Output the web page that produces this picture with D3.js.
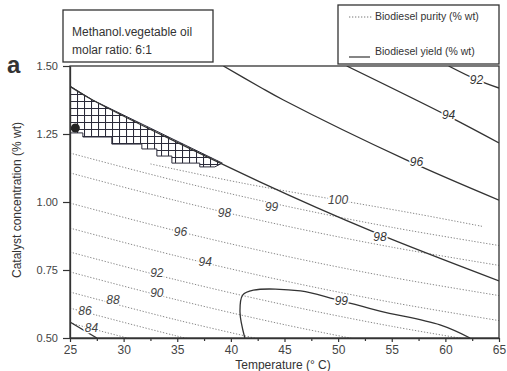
<!DOCTYPE html>
<html>
<head>
<meta charset="utf-8">
<script src="https://cdn.jsdelivr.net/npm/d3@7"></script>
<style>
  body { margin: 0; background: #fff; }
  text { font-family: "Liberation Sans", Arial, sans-serif; fill: #333; }
</style>
</head>
<body>
<svg id="chart" width="507" height="371"></svg>
<script>
// axis ticks
const xTicks = [25, 30, 35, 40, 45, 50, 55, 60, 65];
const xMinorTicks = [27.5, 32.5, 37.5, 42.5, 47.5, 52.5, 57.5, 62.5];
const yTicks = [0.5, 0.75, 1.0, 1.25, 1.5];

// biodiesel purity contours (dotted), [temperature, catalyst]
const purity100 = [[32.5, 1.14], [41, 1.07], [50, 1.007], [57.5, 0.955], [63.5, 0.91]];
const purity99 = [[25, 1.18], [35, 1.077], [45, 0.986], [55, 0.907], [65, 0.84]];
const purity98 = [[25, 1.107], [35, 1.004], [45, 0.913], [55, 0.834], [65, 0.767]];
const purity96 = [[25, 0.996], [35, 0.893], [45, 0.802], [55, 0.723], [65, 0.656]];
const purity94 = [[25, 0.904], [35, 0.801], [45, 0.71], [55, 0.631], [65, 0.564]];
const purity92 = [[25, 0.816], [35, 0.713], [45, 0.622], [55, 0.543], [65, 0.476]];
const purity90 = [[25, 0.743], [35, 0.64], [45, 0.549], [55, 0.47]];
const purity88 = [[25, 0.669], [35, 0.566], [45, 0.475]];
const purity86 = [[25, 0.61], [35, 0.507], [45, 0.416]];
const purity84 = [[25, 0.555], [35, 0.452]];
const purityLabels = [["100", 50, 1.007], ["99", 43.8, 0.982], ["98", 39.4, 0.96], ["96", 35.3, 0.89],
    ["94", 37.6, 0.779], ["92", 33.1, 0.739], ["90", 33.1, 0.665], ["88", 29.0, 0.64],
    ["86", 26.4, 0.599], ["84", 27.0, 0.537]];

// biodiesel yield contours (solid)
const yield92 = [[60.3, 1.5], [62.9, 1.45], [65, 1.419]];
const yield94 = [[50.8, 1.5], [60.4, 1.313], [65, 1.217]];
const yield96 = [[39.3, 1.5], [42.7, 1.423], [44.9, 1.375], [56.4, 1.154], [65, 1.007]];
const yield98 = [[25, 1.425], [27.1, 1.375], [42.7, 1.074], [53.3, 0.89], [65, 0.71]];
const yield99 = [[41.3, 0.5], [40.85, 0.596], [41.1, 0.658], [42.1, 0.676], [46.5, 0.673],
    [49.7, 0.643], [53.9, 0.599], [59.5, 0.548], [62.3, 0.5]];
const yield84 = [[25, 0.559], [27.5, 0.5]];
const yieldLabels = [["92", 62.9, 1.449], ["94", 60.3, 1.32], ["96", 57.3, 1.147],
    ["98", 53.9, 0.871], ["99", 50.3, 0.636]];

// optimum (hatched) region and experimental point
const hatchRegion = [[25, 1.426], [27.1, 1.375], [39.2, 1.143], [38.5, 1.129], [37.1, 1.129],
    [37.1, 1.143], [34.5, 1.143], [34.5, 1.169], [33.1, 1.169], [33.1, 1.195], [31.7, 1.195],
    [31.7, 1.213], [28.9, 1.213], [28.9, 1.239], [26.2, 1.239], [26.2, 1.254], [25, 1.254]];
const optimumPoint = [25.5, 1.272];

const svg = d3.select("#chart");
const plot = { left: 70, right: 499, top: 66, bottom: 338 };

const x = d3.scaleLinear().domain([25, 65]).range([plot.left, plot.right]);
const y = d3.scaleLinear().domain([0.5, 1.5]).range([plot.bottom, plot.top]);

const defs = svg.append("defs");
defs.append("clipPath").attr("id", "clip")
    .append("rect")
    .attr("x", plot.left).attr("y", plot.top)
    .attr("width", plot.right - plot.left).attr("height", plot.bottom - plot.top);

// crosshatch pattern
const pat = defs.append("pattern").attr("id", "hatch")
    .attr("patternUnits", "userSpaceOnUse")
    .attr("x", plot.left).attr("y", plot.top)
    .attr("width", 7).attr("height", 7);
pat.append("path").attr("d", "M0.5,0V7M0,0.5H7")
    .attr("stroke", "#2b2b3a").attr("stroke-width", 1.1).attr("fill", "none");

const G = svg.append("g").attr("clip-path", "url(#clip)");

const line = d3.line().x(d => x(d[0])).y(d => y(d[1])).curve(d3.curveCatmullRom.alpha(0.5));

// hatched region
G.append("path")
    .attr("d", d3.line().x(d => x(d[0])).y(d => y(d[1]))(hatchRegion) + "Z")
    .attr("fill", "url(#hatch)")
    .attr("stroke", "#2b2b3a").attr("stroke-width", 1);

// purity lines
[purity100, purity99, purity98, purity96, purity94, purity92, purity90, purity88, purity86, purity84]
    .forEach(pts => {
        G.append("path").attr("d", line(pts))
            .attr("fill", "none").attr("stroke", "#888")
            .attr("stroke-width", 1).attr("stroke-dasharray", "1.3 1.7");
    });

// yield lines
[yield92, yield94, yield96, yield98, yield99, yield84].forEach(pts => {
    G.append("path").attr("d", line(pts))
        .attr("fill", "none").attr("stroke", "#333").attr("stroke-width", 1.3);
});

G.append("circle")
    .attr("cx", x(optimumPoint[0])).attr("cy", y(optimumPoint[1]))
    .attr("r", 4.5).attr("fill", "#222");

// contour labels
const labelText = (list, col) => {
    svg.append("g").selectAll("text").data(list).enter().append("text")
        .attr("x", d => x(d[1])).attr("y", d => y(d[2]))
        .attr("text-anchor", "middle").attr("dominant-baseline", "central")
        .style("font-size", "12px").style("font-style", "italic")
        .style("fill", col)
        .style("stroke", "#fff").style("stroke-width", 3).style("paint-order", "stroke")
        .text(d => d[0]);
};
labelText(purityLabels, "#444");
labelText(yieldLabels, "#333");

// frame
svg.append("rect")
    .attr("x", plot.left).attr("y", plot.top)
    .attr("width", plot.right - plot.left).attr("height", plot.bottom - plot.top)
    .attr("fill", "none").attr("stroke", "#333").attr("stroke-width", 1.3);

// axes
const yAxis = svg.append("g").attr("transform", `translate(${plot.left},0)`)
    .call(d3.axisLeft(y).tickValues(yTicks).tickFormat(d3.format(".2f")).tickSize(7).tickSizeOuter(0).tickPadding(5));
const xAxis = svg.append("g").attr("transform", `translate(0,${plot.bottom})`)
    .call(d3.axisBottom(x).tickValues(xTicks).tickFormat(d3.format("d")).tickSize(4).tickSizeOuter(0).tickPadding(3));
svg.append("g").attr("transform", `translate(0,${plot.bottom})`)
    .call(d3.axisBottom(x).tickValues(xMinorTicks).tickFormat("").tickSize(3).tickSizeOuter(0))
    .select(".domain").remove();
svg.selectAll(".tick line").attr("stroke", "#333").attr("stroke-width", 1.2);
svg.selectAll(".domain").attr("stroke", "#333").attr("stroke-width", 1.3);
yAxis.selectAll("text").style("font-size", "11px").style("fill", "#444");
xAxis.selectAll("text").style("font-size", "12px").style("fill", "#444");

// axis titles
svg.append("text")
    .attr("x", 283).attr("y", 369).attr("text-anchor", "middle")
    .style("font-size", "12px").text("Temperature (° C)");
svg.append("text")
    .attr("transform", "translate(21,200) rotate(-90)").attr("text-anchor", "middle")
    .style("font-size", "12px").text("Catalyst concentration (% wt)");

// panel letter
svg.append("text").attr("x", 7).attr("y", 73)
    .style("font-size", "24px").style("font-weight", "bold").style("fill", "#333").text("a");

// title box
svg.append("rect").attr("x", 63).attr("y", 10).attr("width", 150).attr("height", 52)
    .attr("fill", "#fff").attr("stroke", "#333").attr("stroke-width", 1.3);
svg.append("text").attr("x", 72).attr("y", 36).style("font-size", "12px").text("Methanol.vegetable oil");
svg.append("text").attr("x", 72).attr("y", 54).style("font-size", "12px").text("molar ratio: 6:1");

// legend
svg.append("rect").attr("x", 338).attr("y", 5).attr("width", 161).attr("height", 59)
    .attr("fill", "#fff").attr("stroke", "#333").attr("stroke-width", 1.3);
svg.append("line").attr("x1", 349).attr("x2", 372).attr("y1", 17).attr("y2", 17)
    .attr("stroke", "#777").attr("stroke-dasharray", "1.3 1.7");
svg.append("line").attr("x1", 349).attr("x2", 370).attr("y1", 57).attr("y2", 57)
    .attr("stroke", "#333").attr("stroke-width", 1.2);
svg.append("text").attr("x", 375).attr("y", 20).style("font-size", "10.5px").text("Biodiesel purity (% wt)");
svg.append("text").attr("x", 375).attr("y", 55).style("font-size", "10.5px").text("Biodiesel yield (% wt)");
</script>
</body>
</html>
